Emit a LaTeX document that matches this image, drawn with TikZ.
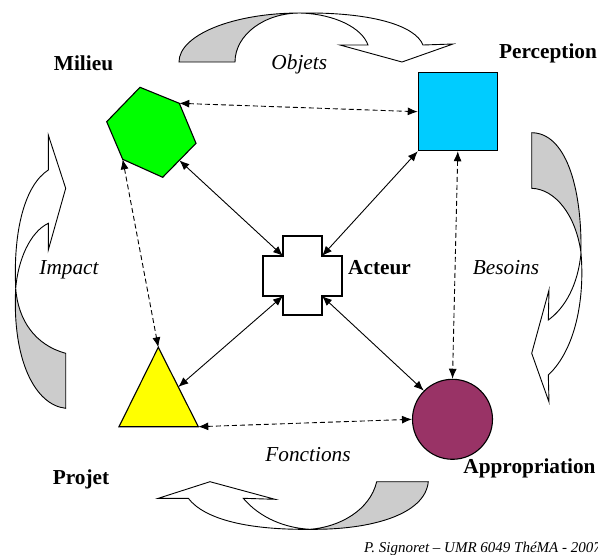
\documentclass[tikz,border=0pt]{standalone}
\usepackage{fontspec}
\setmainfont{Liberation Serif}
\usetikzlibrary{arrows.meta,calc}
\definecolor{bandgray}{RGB}{204,204,204}
\definecolor{hexgreen}{RGB}{0,255,0}
\definecolor{sqcyan}{RGB}{0,204,255}
\definecolor{triyellow}{RGB}{255,255,0}
\definecolor{circpurple}{RGB}{153,51,102}
\begin{document}
\begin{tikzpicture}[x=1pt,y=-1pt,
  shapeline/.style={draw=black, line width=1.1pt, line join=miter},
  band/.style={draw=black, line width=0.9pt, fill=white, line join=miter},
  backband/.style={band, fill=bandgray},
  link/.style={{Latex[length=10pt,width=8pt]}-{Latex[length=10pt,width=8pt]}, line width=0.9pt},
  dlink/.style={link, dash pattern=on 5pt off 3pt},
  blab/.style={font=\bfseries\fontsize{21.3}{25}\selectfont, inner sep=0},
  ilab/.style={font=\itshape\fontsize{21.3}{25}\selectfont, inner sep=0}]
\useasboundingbox (0,0) rectangle (598,555);

% curved block arrows
% top (Objets)
\draw[band] (300,13) .. controls (370,12) and (415,25) .. (423,45) -- (453,44) -- (402,62) -- (340,45) -- (368,45) .. controls (362,28) and (335,14) .. (300,13) -- cycle;
\draw[backband] (179,62) -- (235,62) .. controls (235,35) and (264,13) .. (300,13) .. controls (233,13) and (179,35) .. (179,62) -- cycle;
% right (Besoins)
\draw[band] (581,253) .. controls (585,300) and (575,350) .. (548.3,375) -- (549,402) -- (531.7,353.3) -- (549,290) -- (548.3,320) .. controls (565,308) and (578,285) .. (581,253) -- cycle;
\draw[backband] (531.7,132.7) .. controls (565,133) and (582,185) .. (581,253) .. controls (576,215) and (555,189) .. (531.7,188.3) -- cycle;
% bottom (Fonctions)
\draw[band] (310,529.3) .. controls (250,530) and (205,520) .. (188.3,498.3) -- (158.3,498.3) -- (210,481.7) -- (275,499.3) -- (243.3,498.3) .. controls (260,518) and (285,528) .. (310,529.3) -- cycle;
\draw[backband] (376.7,481.7) -- (428.3,481.7) .. controls (425,515) and (370,530) .. (310,529.3) .. controls (340,527) and (370,510) .. (376.7,481.7) -- cycle;
% left (Impact)
\draw[band] (15.7,288.3) .. controls (13,230) and (25,185) .. (48.3,170) -- (48.3,135) -- (65.7,188.3) -- (48.3,250) -- (48.3,223.3) .. controls (30,232) and (18,260) .. (15.7,288.3) -- cycle;
\draw[backband] (65.7,353.3) -- (65.7,408.3) .. controls (35,405) and (12,360) .. (15.7,288.3) .. controls (18,320) and (35,345) .. (65.7,353.3) -- cycle;

% shapes
\draw[shapeline, fill=hexgreen] (140,87.3) coordinate (m1) -- (179.3,103.3) coordinate (m2) -- (196,143.3) coordinate (m3) -- (162.7,177.3) coordinate (m4) -- (122.7,159.3) coordinate (m5) -- (106.7,121.7) coordinate (m6) -- cycle;
\coordinate (mE) at ($(m3)!0.5!(m4)$);
\node[shapeline, fill=sqcyan, minimum width=79pt, minimum height=78pt, inner sep=0] (percep) at (457.8,111.7) {};
\node[shapeline, circle, fill=circpurple, minimum size=80pt, inner sep=0] (approp) at (452.5,419.3) {};
\draw[shapeline, fill=triyellow] (158.3,347.3) coordinate (pA) -- (119,426.7) coordinate (pL) -- (198.3,426.7) coordinate (pR) -- cycle;
\coordinate (pE) at ($(pA)!0.5!(pR)$);
\draw[shapeline, fill=white] (283,236) -- (322,236) -- (322,256) coordinate (aTR) -- (342,256) -- (342,296) -- (322,296) coordinate (aBR) -- (322,315) -- (283,315) -- (283,296) coordinate (aBL) -- (263,296) -- (263,256) -- (283,256) coordinate (aTL) -- cycle;

% connectors
\draw[dlink] (m2) -- (percep.west);
\draw[dlink] (m5) -- (pA);
\draw[dlink] (percep.south) -- (approp.north);
\draw[dlink] (pR) -- (approp.west);
\draw[link] (mE) -- (aTL);
\draw[link] (percep.south west) -- (aTR);
\draw[link] (pE) -- (aBL);
\draw[link] (approp.north west) -- (aBR);

% labels
\node[blab, anchor=base] (lmil) at (83.5,70) {Milieu};
\node[blab, anchor=base] (lper) at (548,58) {Perception};
\node[blab, anchor=base west] (lact) at (348,274.3) {Acteur};
\node[blab, anchor=base] (lpro) at (81,484) {Projet};
\node[blab, anchor=base] (lapp) at (529.5,473) {Appropriation};
\node[ilab, anchor=base] (lobj) at (299.3,69) {Objets};
\node[ilab, anchor=base] (lbes) at (506,274) {Besoins};
\node[ilab, anchor=base] (limp) at (69,274) {Impact};
\node[ilab, anchor=base] (lfon) at (308,461) {Fonctions};
\node[font=\itshape\fontsize{15}{18}\selectfont, inner sep=0, anchor=base west] (lcred) at (364,552) {P. Signoret – UMR 6049 ThéMA - 2007};
\end{tikzpicture}
\end{document}
